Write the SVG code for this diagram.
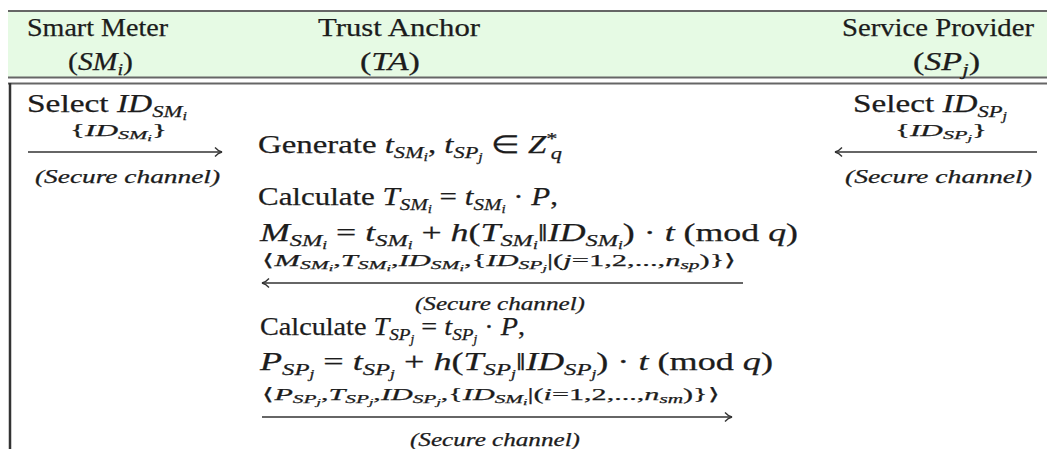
<svg xmlns="http://www.w3.org/2000/svg" width="1047" height="449" viewBox="0 0 1047 449">
<style>
text{font-family:"Liberation Serif","Times New Roman",serif;fill:#1c1c1c;stroke:#1c1c1c;stroke-width:0.25}
.it{font-style:italic}
.h{font-size:25px}
.m{font-size:17px}
.sc{font-size:18px;font-style:italic}
.rule{stroke:#666;stroke-width:2;fill:none}
.arr{stroke:#333;stroke-width:1.4;fill:none}
</style>
<defs>
<marker id="hd" markerWidth="12" markerHeight="12" refX="9" refY="6" orient="auto" markerUnits="userSpaceOnUse">
<path d="M2,1.5 Q5,5 9,6 Q5,7 2,10.5" fill="none" stroke="#333" stroke-width="1.3"/>
</marker>
</defs>
<rect x="0" y="0" width="1047" height="449" fill="#fff"/>
<g id="header">
<rect x="8" y="12" width="1039" height="65" fill="#e6fae4"/>
<line class="rule" x1="8" y1="11" x2="1047" y2="11"/>
<line class="rule" x1="8" y1="77.5" x2="1047" y2="77.5" stroke="#555"/>
<line class="rule" x1="8" y1="83.5" x2="1047" y2="83.5" stroke="#555"/>
<line x1="10" y1="83" x2="10" y2="449" stroke="#333" stroke-width="2.5"/>
</g>
<g id="sm">
<text class="h" x="27" y="36" textLength="141" lengthAdjust="spacingAndGlyphs">Smart Meter</text>
<text class="h" x="68" y="70" textLength="65" lengthAdjust="spacingAndGlyphs">(<tspan class="it">SM</tspan><tspan class="it" font-size="17" dy="5">i</tspan><tspan dy="-5">)</tspan></text>
<text class="h" x="27" y="112" textLength="160" lengthAdjust="spacingAndGlyphs">Select <tspan class="it">ID</tspan><tspan class="it" font-size="17" dy="5">SM</tspan><tspan class="it" font-size="12" dy="3">i</tspan></text>
</g>
<g id="ta">
<text class="h" x="318" y="36" textLength="162" lengthAdjust="spacingAndGlyphs">Trust Anchor</text>
<text class="h" x="360" y="70" textLength="60" lengthAdjust="spacingAndGlyphs">(<tspan class="it">TA</tspan>)</text>
<text class="h" x="258" y="153" textLength="304" lengthAdjust="spacingAndGlyphs">Generate <tspan class="it">t</tspan><tspan class="it" font-size="17" dy="5">SM</tspan><tspan class="it" font-size="12" dy="3">i</tspan><tspan dy="-8">, </tspan><tspan class="it">t</tspan><tspan class="it" font-size="17" dy="5">SP</tspan><tspan class="it" font-size="12" dy="3">j</tspan><tspan dy="-8"> ∈ </tspan><tspan class="it">Z</tspan><tspan font-size="17" dy="-9">*</tspan><tspan class="it" font-size="17" dx="-5" dy="15">q</tspan></text>
<text class="h" x="258" y="205" textLength="300" lengthAdjust="spacingAndGlyphs">Calculate <tspan class="it">T</tspan><tspan class="it" font-size="17" dy="5">SM</tspan><tspan class="it" font-size="12" dy="3">i</tspan><tspan dy="-8"> = </tspan><tspan class="it">t</tspan><tspan class="it" font-size="17" dy="5">SM</tspan><tspan class="it" font-size="12" dy="3">i</tspan><tspan dy="-8"> · </tspan><tspan class="it">P</tspan>,</text>
<text class="h" x="260" y="241" textLength="538" lengthAdjust="spacingAndGlyphs"><tspan class="it">M</tspan><tspan class="it" font-size="17" dy="5">SM</tspan><tspan class="it" font-size="12" dy="3">i</tspan><tspan dy="-8"> = </tspan><tspan class="it">t</tspan><tspan class="it" font-size="17" dy="5">SM</tspan><tspan class="it" font-size="12" dy="3">i</tspan><tspan dy="-8"> + </tspan><tspan class="it">h</tspan>(<tspan class="it">T</tspan><tspan class="it" font-size="17" dy="5">SM</tspan><tspan class="it" font-size="12" dy="3">i</tspan><tspan dy="-8">‖</tspan><tspan class="it">ID</tspan><tspan class="it" font-size="17" dy="5">SM</tspan><tspan class="it" font-size="12" dy="3">i</tspan><tspan dy="-8">) · </tspan><tspan class="it">t</tspan>  (mod <tspan class="it">q</tspan>)</text>
<text class="h" x="260" y="335" textLength="265" lengthAdjust="spacingAndGlyphs">Calculate <tspan class="it">T</tspan><tspan class="it" font-size="17" dy="5">SP</tspan><tspan class="it" font-size="12" dy="3">j</tspan><tspan dy="-8"> = </tspan><tspan class="it">t</tspan><tspan class="it" font-size="17" dy="5">SP</tspan><tspan class="it" font-size="12" dy="3">j</tspan><tspan dy="-8"> · </tspan><tspan class="it">P</tspan>,</text>
<text class="h" x="260" y="370" textLength="513" lengthAdjust="spacingAndGlyphs"><tspan class="it">P</tspan><tspan class="it" font-size="17" dy="5">SP</tspan><tspan class="it" font-size="12" dy="3">j</tspan><tspan dy="-8"> = </tspan><tspan class="it">t</tspan><tspan class="it" font-size="17" dy="5">SP</tspan><tspan class="it" font-size="12" dy="3">j</tspan><tspan dy="-8"> + </tspan><tspan class="it">h</tspan>(<tspan class="it">T</tspan><tspan class="it" font-size="17" dy="5">SP</tspan><tspan class="it" font-size="12" dy="3">j</tspan><tspan dy="-8">‖</tspan><tspan class="it">ID</tspan><tspan class="it" font-size="17" dy="5">SP</tspan><tspan class="it" font-size="12" dy="3">j</tspan><tspan dy="-8">) · </tspan><tspan class="it">t</tspan>  (mod <tspan class="it">q</tspan>)</text>
</g>
<g id="sp">
<text class="h" x="842" y="36" textLength="192" lengthAdjust="spacingAndGlyphs">Service Provider</text>
<text class="h" x="913" y="70" textLength="67" lengthAdjust="spacingAndGlyphs">(<tspan class="it">SP</tspan><tspan class="it" font-size="17" dy="5">j</tspan><tspan dy="-5">)</tspan></text>
<text class="h" x="853" y="112" textLength="154" lengthAdjust="spacingAndGlyphs">Select <tspan class="it">ID</tspan><tspan class="it" font-size="17" dy="5">SP</tspan><tspan class="it" font-size="12" dy="3">j</tspan></text>
</g>
<g id="connectors">
<line class="arr" x1="28" y1="152" x2="222" y2="152" marker-end="url(#hd)"/>
<text class="m" x="70" y="136" textLength="97" lengthAdjust="spacingAndGlyphs">{<tspan class="it">ID</tspan><tspan class="it" font-size="12" dy="3">SM</tspan><tspan class="it" font-size="9" dy="2">i</tspan><tspan dy="-5">}</tspan></text>
<text class="sc" x="35" y="183" textLength="185" lengthAdjust="spacingAndGlyphs">(Secure channel)</text>
<line class="arr" x1="1037" y1="152" x2="835" y2="152" marker-end="url(#hd)"/>
<text class="m" x="895" y="136" textLength="92" lengthAdjust="spacingAndGlyphs">{<tspan class="it">ID</tspan><tspan class="it" font-size="12" dy="3">SP</tspan><tspan class="it" font-size="9" dy="2">j</tspan><tspan dy="-5">}</tspan></text>
<text class="sc" x="845" y="183" textLength="187" lengthAdjust="spacingAndGlyphs">(Secure channel)</text>
<line class="arr" x1="743" y1="283" x2="262" y2="283" marker-end="url(#hd)"/>
<text class="m" x="262" y="266" textLength="475" lengthAdjust="spacingAndGlyphs">⟨<tspan class="it">M</tspan><tspan class="it" font-size="12" dy="3">SM</tspan><tspan class="it" font-size="9" dy="2">i</tspan><tspan dy="-5">,</tspan><tspan class="it">T</tspan><tspan class="it" font-size="12" dy="3">SM</tspan><tspan class="it" font-size="9" dy="2">i</tspan><tspan dy="-5">,</tspan><tspan class="it">ID</tspan><tspan class="it" font-size="12" dy="3">SM</tspan><tspan class="it" font-size="9" dy="2">i</tspan><tspan dy="-5">,{</tspan><tspan class="it">ID</tspan><tspan class="it" font-size="12" dy="3">SP</tspan><tspan class="it" font-size="9" dy="2">j</tspan><tspan dy="-5">|(</tspan><tspan class="it">j</tspan>=1,2,...,<tspan class="it">n</tspan><tspan class="it" font-size="12" dy="3">sp</tspan><tspan dy="-3">)}⟩</tspan></text>
<text class="sc" x="415" y="310" textLength="170" lengthAdjust="spacingAndGlyphs">(Secure channel)</text>
<line class="arr" x1="262" y1="417" x2="732" y2="417" marker-end="url(#hd)"/>
<text class="m" x="262" y="400" textLength="458" lengthAdjust="spacingAndGlyphs">⟨<tspan class="it">P</tspan><tspan class="it" font-size="12" dy="3">SP</tspan><tspan class="it" font-size="9" dy="2">j</tspan><tspan dy="-5">,</tspan><tspan class="it">T</tspan><tspan class="it" font-size="12" dy="3">SP</tspan><tspan class="it" font-size="9" dy="2">j</tspan><tspan dy="-5">,</tspan><tspan class="it">ID</tspan><tspan class="it" font-size="12" dy="3">SP</tspan><tspan class="it" font-size="9" dy="2">j</tspan><tspan dy="-5">,{</tspan><tspan class="it">ID</tspan><tspan class="it" font-size="12" dy="3">SM</tspan><tspan class="it" font-size="9" dy="2">i</tspan><tspan dy="-5">|(</tspan><tspan class="it">i</tspan>=1,2,...,<tspan class="it">n</tspan><tspan class="it" font-size="12" dy="3">sm</tspan><tspan dy="-3">)}⟩</tspan></text>
<text class="sc" x="410" y="446" textLength="170" lengthAdjust="spacingAndGlyphs">(Secure channel)</text>
</g>
</svg>
